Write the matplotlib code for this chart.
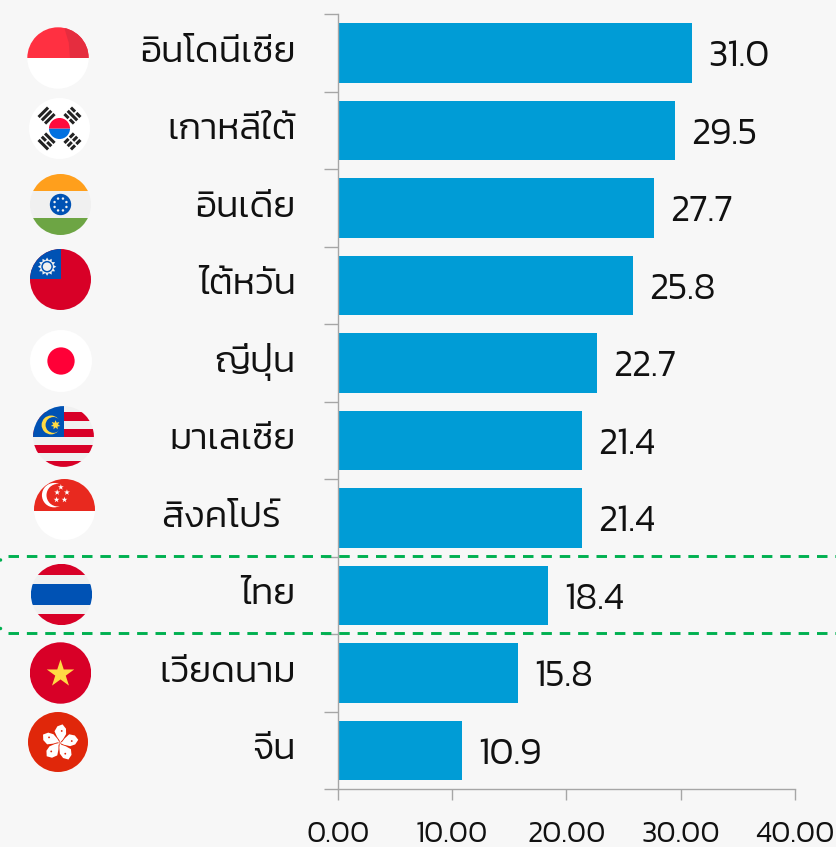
import numpy as np
import matplotlib
matplotlib.use("Agg")
import matplotlib.pyplot as plt
from matplotlib import patches as mp
from matplotlib.patches import Circle, Rectangle, Polygon
from matplotlib.transforms import Affine2D

W, H = 836, 847
countries = ["อินโดนีเซีย", "เกาหลีใต้", "อินเดีย", "ไต้หวัน", "ญี่ปุ่น", "มาเลเซีย", "สิงคโปร์ ", "ไทย", "เวียดนาม", "จีน"]
values = [31.0, 29.5, 27.7, 25.8, 22.7, 21.4, 21.4, 18.4, 15.8, 10.9]
value_labels = ["31.0", "29.5", "27.7", "25.8", "22.7", "21.4", "21.4", "18.4", "15.8", "10.9"]
x_ticks = [0, 10, 20, 30, 40]
x_tick_labels = ["0.00", "10.00", "20.00", "30.00", "40.00"]

BG = "#f7f7f7"
BLUE = "#009cd6"
GREY = "#a6a6a6"
GREEN = "#00b050"
TXT = "#111111"
RED = "#d80027"
NAVY = "#0052b4"
OFFW = "#f0f0f0"
YEL = "#ffda44"

plt.rcParams["font.family"] = ["Kanit", "DejaVu Sans"]
plt.rcParams["font.weight"] = 300

fig = plt.figure(figsize=(W / 100, H / 100), dpi=100, facecolor=BG)

# main bars, axes box set in pixels so 0-40 spans 337.7-795
ax = fig.add_axes([337.7 / W, 1 - 789.3 / H, (795 - 337.7) / W, 775 / H], facecolor="none")
y = np.arange(len(values))
ax.barh(y, values, height=0.77, color=BLUE, zorder=2)
ax.set_xlim(0, 40)
ax.set_ylim(9.5, -0.5)
ax.set_xticks(x_ticks, x_tick_labels, fontsize=21.5, color=TXT)
ax.set_yticks(np.r_[y - 0.5, 9.5], [""] * (len(y) + 1))
ax.tick_params(axis="y", length=10, width=1, color=GREY)
ax.tick_params(axis="x", length=7.6, width=1, color=GREY, pad=15)
for s in ["top", "right"]:
    ax.spines[s].set_visible(False)
for s in ["left", "bottom"]:
    ax.spines[s].set_color(GREY)
    ax.spines[s].set_linewidth(1)

for i, (v, lab, name) in enumerate(zip(values, value_labels, countries)):
    ax.annotate(lab, (v, i), xytext=(11.5, -9.4), textcoords="offset points",
                fontsize=27, color=TXT, ha="left", va="baseline")
    # the Singapore label sits further left in the original
    dx = -34.6 if name.endswith(" ") else -30.3
    ax.annotate(name, (0, i), xytext=(dx, -6.3), textcoords="offset points",
                fontsize=26.8, color=TXT, ha="right", va="baseline")

# overlay in pixel coordinates for flags and the Thailand highlight
ov = fig.add_axes([0, 0, 1, 1], facecolor="none")
ov.set_xlim(0, W)
ov.set_ylim(H, 0)
ov.axis("off")

for yy in (556, 632.7):
    ov.plot([8.3, W + 10], [yy, yy], color=GREEN, lw=2.1, ls=(0, (3.6, 2.7)), zorder=5)
ov.add_patch(Circle((0.5, 560), 1.7, fc=GREEN, ec="none", zorder=5))
ov.add_patch(Circle((0.5, 628.5), 1.7, fc=GREEN, ec="none", zorder=5))


def star(cx, cy, r, n=5, inner=0.382, rot=0.0):
    a = np.arange(2 * n) * np.pi / n - np.pi / 2 + rot
    rr = np.where(np.arange(2 * n) % 2 == 0, r, r * inner)
    return np.c_[cx + rr * np.cos(a), cy + rr * np.sin(a)]


def flag(cx, cy, r, draw):
    clip = Circle((cx, cy), r, transform=ov.transData)

    def add(p):
        ov.add_patch(p)
        p.set_clip_path(clip)
        return p

    def band(y0, y1, color):
        add(Rectangle((cx - r, cy + y0 * r), 2 * r, (y1 - y0) * r, fc=color, ec="none"))

    draw(cx, cy, r, add, band)


def indonesia(cx, cy, r, add, band):
    band(-1, 1, "#ffffff")
    band(-1, 0.0, "#ff3041")
    add(Polygon([(cx + 0.2 * r, cy - r), (cx + r, cy - r), (cx + r, cy), (cx + 0.39 * r, cy),
                 (cx + 0.35 * r, cy - 0.5 * r)], fc="#e52d3f", ec="none"))


def korea(cx, cy, r, add, band):
    band(-1, 1, "#ffffff")
    add(mp.Wedge((cx, cy), 0.345 * r, 0, 180, fc="#0070e0", ec="none"))
    add(mp.Wedge((cx, cy), 0.345 * r, 180, 360, fc="#ff0a3c", ec="none"))
    for ang, cuts in [(-45, (0, 0, 0)), (45, (1, 0, 1)), (-135, (0, 1, 0)), (135, (1, 1, 1))]:
        rot = Affine2D().rotate_deg_around(cx, cy, ang) + ov.transData
        for j, cut in enumerate(cuts):
            yy = cy - 0.8 * r + j * 0.15 * r
            if cut:
                for xx in (cx - 0.22 * r, cx + 0.03 * r):
                    ov.add_patch(Rectangle((xx, yy), 0.19 * r, 0.1 * r, fc="#222222", ec="none", transform=rot))
            else:
                ov.add_patch(Rectangle((cx - 0.22 * r, yy), 0.44 * r, 0.1 * r, fc="#222222", ec="none", transform=rot))


def india(cx, cy, r, add, band):
    band(-1, -0.44, "#ff9f1c")
    band(-0.44, 0.43, OFFW)
    band(0.43, 1, "#6da544")
    add(Circle((cx, cy), 0.35 * r, fc=NAVY, ec="none"))
    for a in np.arange(8) * np.pi / 4 + np.pi / 8:
        add(Circle((cx + 0.21 * r * np.cos(a), cy + 0.21 * r * np.sin(a)), 0.04 * r, fc=OFFW, ec="none"))


def taiwan(cx, cy, r, add, band):
    band(-1, 1, RED)
    add(Rectangle((cx - r, cy - r), r, r, fc=NAVY, ec="none"))
    sx, sy = cx - 0.44 * r, cy - 0.42 * r
    add(Polygon(star(sx, sy, 0.3 * r, n=12, inner=0.72), fc=OFFW, ec="none"))
    add(Circle((sx, sy), 0.19 * r, fc=NAVY, ec="none"))
    add(Circle((sx, sy), 0.14 * r, fc=OFFW, ec="none"))


def japan(cx, cy, r, add, band):
    band(-1, 1, "#ffffff")
    add(Circle((cx, cy), 0.44 * r, fc="#ff0037", ec="none"))


def malaysia(cx, cy, r, add, band):
    band(-1, 1, OFFW)
    for y0, y1 in [(-0.79, -0.52), (-0.25, 0.01), (0.27, 0.55), (0.81, 1.0)]:
        band(y0, y1, RED)
    add(Rectangle((cx - r, cy - r), r, r + 0.01 * r, fc=NAVY, ec="none"))
    add(Circle((cx - 0.41 * r, cy - 0.38 * r), 0.31 * r, fc=YEL, ec="none"))
    add(Circle((cx - 0.33 * r, cy - 0.38 * r), 0.26 * r, fc=NAVY, ec="none"))
    add(Polygon(star(cx - 0.26 * r, cy - 0.38 * r, 0.16 * r, n=7, inner=0.5), fc=YEL, ec="none"))


def singapore(cx, cy, r, add, band):
    band(-1, 1, "#ffffff")
    band(-1, 0.04, "#e8291f")
    add(Circle((cx - 0.34 * r, cy - 0.47 * r), 0.4 * r, fc="#ffffff", ec="none"))
    add(Circle((cx - 0.22 * r, cy - 0.47 * r), 0.37 * r, fc="#e8291f", ec="none"))
    for dx, dy in [(-0.12, -0.73), (0.08, -0.56), (0.0, -0.32), (-0.26, -0.32), (-0.24, -0.56)]:
        add(Polygon(star(cx + dx * r, cy + dy * r, 0.1 * r), fc="#ffffff", ec="none"))


def thailand(cx, cy, r, add, band):
    band(-1, -0.63, RED)
    band(-0.63, -0.35, OFFW)
    band(-0.35, 0.35, NAVY)
    band(0.35, 0.64, OFFW)
    band(0.64, 1, RED)


def vietnam(cx, cy, r, add, band):
    band(-1, 1, RED)
    add(Polygon(star(cx, cy + 0.03 * r, 0.47 * r), fc=YEL, ec="none"))


def hongkong(cx, cy, r, add, band):
    band(-1, 1, "#e0270a")
    petal = [(0, 0), (0.10, -0.12), (0.2, -0.3), (0.19, -0.48), (0.07, -0.62), (-0.1, -0.55),
             (-0.19, -0.38), (-0.1, -0.2), (-0.01, -0.08)]
    for k in range(5):
        tr = Affine2D().rotate_deg(72 * k + 2).translate(cx + 0.06 * r, cy + 0.03 * r)
        add(Polygon(tr.transform(np.array(petal) * r), fc="#ffffff", ec="none"))
        dot = tr.transform(np.array([[0.05, -0.4]]) * r)[0]
        add(Circle(dot, 0.03 * r, fc="#e0270a", ec="none"))


flag(58, 58, 30.7, indonesia)
flag(59.5, 128.5, 30.5, korea)
flag(60.5, 204.5, 30.5, india)
flag(60.5, 279.5, 30.5, taiwan)
flag(61, 361, 31, japan)
flag(63.5, 436.5, 30.4, malaysia)
flag(64.5, 509.5, 30.5, singapore)
flag(61.5, 594.5, 30.6, thailand)
flag(60.5, 673, 30.7, vietnam)
flag(58, 742, 30, hongkong)

fig.savefig("out.png", dpi=100, facecolor=BG)
